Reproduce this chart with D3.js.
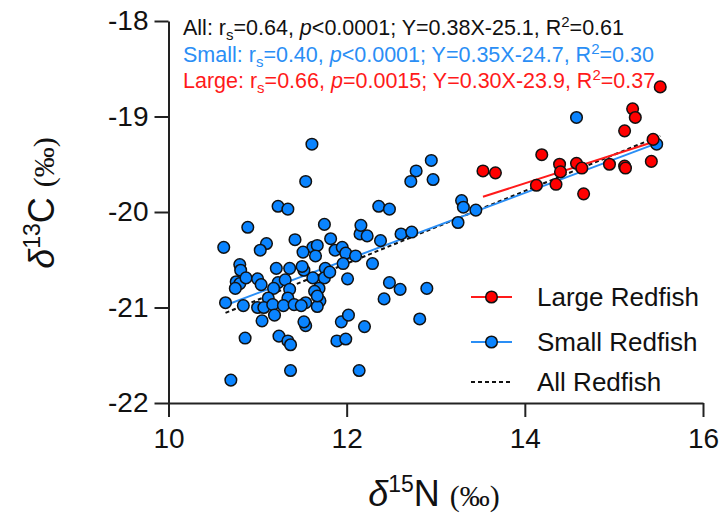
<!DOCTYPE html>
<html>
<head>
<meta charset="utf-8">
<script src="https://cdn.jsdelivr.net/npm/d3@7"></script>
<style>
  body { margin: 0; background: #fff; }
  svg text { font-family: Arial, "Liberation Sans", sans-serif; }
</style>
</head>
<body>
<div id="chart"></div>
<script>
// small redfish: d15N and d13C
var smallX = [11.61, 11.54, 11.23, 11.34, 10.89, 11.75, 10.62, 11.10, 11.03, 11.42,
  11.82, 11.62, 11.67, 11.51, 11.87, 11.95, 11.99, 11.65, 12.10, 11.96,
  10.80, 10.81, 10.76, 10.80, 10.75, 10.87, 11.00, 11.04, 10.64, 10.84,
  11.21, 11.36, 11.23, 11.31, 11.36, 11.18, 11.12, 11.34, 11.00, 11.07,
  11.17, 11.29, 11.41, 11.54, 11.19, 11.05, 11.52, 11.50, 11.62, 11.76,
  11.75, 11.69, 11.70, 11.67, 11.54, 11.52, 12.01, 11.94, 12.02, 10.86,
  11.24, 11.34, 11.37, 11.89, 11.99, 11.37, 10.70, 11.64, 11.67, 11.81,
  11.49, 12.15, 12.23, 12.16, 12.38, 12.61, 12.73, 12.36, 12.48, 12.29,
  12.48, 12.60, 12.90, 12.42, 12.82, 12.20, 12.14, 12.95, 12.78, 12.72,
  12.97, 13.29, 13.31, 13.45, 13.25, 14.58, 15.48];
var smallY = [-19.29, -19.68, -19.94, -19.97, -20.16, -20.13, -20.37, -20.33, -20.40, -20.29,
  -20.28, -20.37, -20.35, -20.42, -20.40, -20.37, -20.43, -20.46, -20.46, -20.54,
  -20.55, -20.61, -20.73, -20.75, -20.80, -20.69, -20.70, -20.76, -20.95, -20.98,
  -20.59, -20.59, -20.74, -20.71, -20.81, -20.80, -20.90, -20.90, -21.00, -21.00,
  -20.97, -20.98, -20.97, -20.95, -21.08, -21.14, -20.61, -20.57, -20.69, -20.59,
  -20.69, -20.80, -20.93, -20.99, -21.19, -21.15, -20.70, -21.15, -21.08, -21.32,
  -21.30, -21.35, -21.39, -21.35, -21.33, -21.66, -21.76, -20.83, -20.88, -20.63,
  -20.98, -20.23, -20.25, -20.14, -20.30, -20.23, -20.21, -19.94, -19.97, -20.54,
  -20.74, -20.81, -20.80, -20.91, -21.12, -21.20, -21.66, -19.46, -19.57, -19.68,
  -19.66, -19.88, -19.95, -19.98, -20.11, -19.01, -19.29];

// large redfish
var largeX = [13.53, 13.67, 14.13, 14.19, 14.35, 14.39, 14.40, 14.58, 14.64, 14.66,
  14.95, 15.12, 15.12, 15.13, 15.21, 15.24, 15.44, 15.42, 15.52];
var largeY = [-19.57, -19.59, -19.72, -19.40, -19.71, -19.50, -19.58, -19.49, -19.54, -19.81,
  -19.50, -19.15, -19.52, -19.54, -18.92, -19.01, -19.24, -19.47, -18.69];

// fitted lines: all, small, large
var fitNames = ["All Redfish", "Small Redfish", "Large Redfish"];
var fitSlope = [0.38, 0.35, 0.30];
var fitIntercept = [-25.1, -24.7, -23.9];
var fitFrom = [10.64, 10.64, 13.53];
var fitTo = [15.52, 15.48, 15.52];

var xTicks = [10, 12, 14, 16];
var yTicks = [-22, -21, -20, -19, -18];

var statLines = [
  {name: "All", rs: "0.64", p: "<0.0001", eq: "Y=0.38X-25.1", r2: "0.61", color: "#111"},
  {name: "Small", rs: "0.40", p: "<0.0001", eq: "Y=0.35X-24.7", r2: "0.30", color: "#2a8ef5"},
  {name: "Large", rs: "0.66", p: "=0.0015", eq: "Y=0.30X-23.9", r2: "0.37", color: "#ff1a1a"}
];

var width = 722, height = 517;
var blueFill = "#0a84ff", redFill = "#ff0000";
var blueLine = "#2a8ef5", redLine = "#ff1a1a";

var svg = d3.select("#chart").append("svg")
  .attr("width", width)
  .attr("height", height);

var x = d3.scaleLinear().domain([10, 16]).range([168.5, 703]);
var y = d3.scaleLinear().domain([-22, -18]).range([403, 21]);

// axes
var xAxis = svg.append("g")
  .attr("transform", "translate(0," + y(-22) + ")")
  .call(d3.axisBottom(x).tickValues(xTicks).tickSize(14).tickSizeOuter(0).tickPadding(11)
    .tickFormat(d3.format("d")));
var yAxis = svg.append("g")
  .attr("transform", "translate(" + x(10) + ",0)")
  .call(d3.axisLeft(y).tickValues(yTicks).tickSize(14).tickSizeOuter(0).tickPadding(6)
    .tickFormat(function(d) { return d; }));

[xAxis, yAxis].forEach(function(a) {
  a.selectAll("path, line").attr("stroke", "#222").attr("stroke-width", 2);
  a.selectAll("text").attr("fill", "#111").style("font-size", "28px");
});

// axis titles
var xt = svg.append("text")
  .attr("x", 434).attr("y", 506)
  .attr("text-anchor", "middle")
  .style("font-size", "36px").attr("fill", "#111");
xt.append("tspan").style("font-style", "italic").text("δ");
xt.append("tspan").attr("dy", -14).style("font-size", "23px").text("15");
xt.append("tspan").attr("dy", 14).text("N ");
xt.append("tspan").style("font-family", "'Liberation Serif', serif").style("font-size", "30px").text("(‰)");

var yt = svg.append("text")
  .attr("transform", "translate(54,203) rotate(-90)")
  .attr("text-anchor", "middle")
  .style("font-size", "36px").attr("fill", "#111");
yt.append("tspan").style("font-style", "italic").text("δ");
yt.append("tspan").attr("dy", -14).style("font-size", "23px").text("13");
yt.append("tspan").attr("dy", 14).text("C ");
yt.append("tspan").style("font-family", "'Liberation Serif', serif").style("font-size", "30px").text("(‰)");

// regression lines
var fitColors = ["#111", blueLine, redLine];
fitNames.forEach(function(n, i) {
  var pts = [fitFrom[i], fitTo[i]].map(function(v) {
    return [x(v), y(fitSlope[i] * v + fitIntercept[i])];
  });
  svg.append("path")
    .attr("d", d3.line()(pts))
    .attr("stroke", fitColors[i])
    .attr("stroke-width", 2)
    .attr("stroke-dasharray", i == 0 ? "4,3" : null)
    .attr("fill", "none");
});

// points
var r = 5.8;
svg.append("g").selectAll("circle")
  .data(smallX)
  .enter().append("circle")
  .attr("cx", function(d) { return x(d); })
  .attr("cy", function(d, i) { return y(smallY[i]); })
  .attr("r", r)
  .attr("fill", blueFill)
  .attr("stroke", "#111")
  .attr("stroke-width", 1.5);

svg.append("g").selectAll("circle")
  .data(largeX)
  .enter().append("circle")
  .attr("cx", function(d) { return x(d); })
  .attr("cy", function(d, i) { return y(largeY[i]); })
  .attr("r", r)
  .attr("fill", redFill)
  .attr("stroke", "#111")
  .attr("stroke-width", 1.5);

// stats text
statLines.forEach(function(s, i) {
  var t = svg.append("text")
    .attr("x", 183).attr("y", 35 + i * 26.7)
    .attr("fill", s.color)
    .style("font-size", "21.5px");
  t.append("tspan").text(s.name + ": r");
  t.append("tspan").attr("dy", 5).style("font-size", "15px").text("s");
  t.append("tspan").attr("dy", -5).text("=" + s.rs + ", ");
  t.append("tspan").style("font-style", "italic").text("p");
  t.append("tspan").text(s.p + "; " + s.eq + ", R");
  t.append("tspan").attr("dy", -8).style("font-size", "15px").text("2");
  t.append("tspan").attr("dy", 8).text("=" + s.r2);
});

// legend
var legendRows = [
  {label: "Large Redfish", color: redLine, fill: redFill, dash: null},
  {label: "Small Redfish", color: blueLine, fill: blueFill, dash: null},
  {label: "All Redfish", color: "#111", fill: null, dash: "4,3"}
];
var legendY = [297, 342, 382];
legendRows.forEach(function(d, i) {
  var g = svg.append("g").attr("transform", "translate(0," + legendY[i] + ")");
  g.append("line")
    .attr("x1", 471).attr("x2", 512)
    .attr("stroke", d.color).attr("stroke-width", 2)
    .attr("stroke-dasharray", d.dash);
  if (d.fill) {
    g.append("circle").attr("cx", 491.5).attr("r", r)
      .attr("fill", d.fill).attr("stroke", "#111").attr("stroke-width", 1.5);
  }
  g.append("text")
    .attr("x", 537).attr("y", 9)
    .attr("fill", "#111")
    .style("font-size", "26px")
    .text(d.label);
});
</script>
</body>
</html>
